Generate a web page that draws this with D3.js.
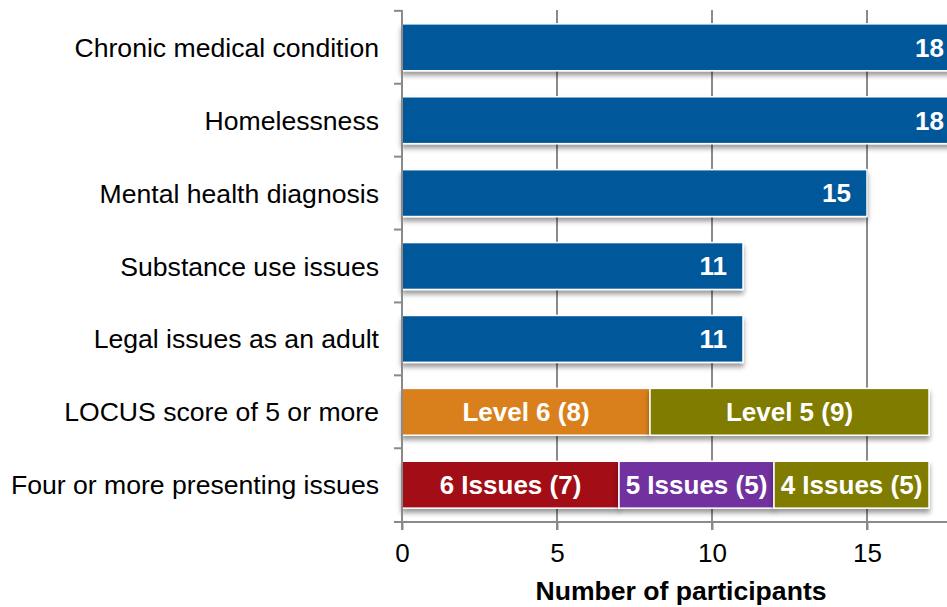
<!DOCTYPE html>
<html>
<head>
<meta charset="utf-8">
<script src="https://cdn.jsdelivr.net/npm/d3@7"></script>
<style>
  body { margin: 0; background: #fff; }
  svg { display: block; font-family: "Liberation Sans", Arial, sans-serif; }
</style>
</head>
<body>
<svg id="chart" width="947" height="607"></svg>
<script>
// categories top to bottom
var categories = [
  "Chronic medical condition",
  "Homelessness",
  "Mental health diagnosis",
  "Substance use issues",
  "Legal issues as an adult",
  "LOCUS score of 5 or more",
  "Four or more presenting issues"
];
// single bars
var singleValues = [18, 18, 15, 11, 11];
// stacked bars
var locusLabels = ["Level 6", "Level 5"];
var locusValues = [8, 9];
var issueLabels = ["6 Issues", "5 Issues", "4 Issues"];
var issueValues = [7, 5, 5];
var xTicks = [0, 5, 10, 15];

var blue = "#00589a";
var locusColors = ["#d9801b", "#7f7b00"];
var issueColors = ["#a20d18", "#7131a0", "#7f7b00"];

var svg = d3.select("#chart");

var defs = svg.append("defs");
var f = defs.append("filter").attr("id", "shadow")
  .attr("x", "-5%").attr("y", "-20%").attr("width", "110%").attr("height", "160%");
f.append("feDropShadow").attr("dx", 0).attr("dy", 4).attr("stdDeviation", 2.5)
  .attr("flood-color", "#000").attr("flood-opacity", 0.4);

var x = d3.scaleLinear().domain([0, 15]).range([402, 867]);
var y = d3.scaleBand().domain(categories).range([10, 522])
  .paddingInner(0.357).paddingOuter(0.19);

// grid lines
svg.append("g").selectAll("line")
  .data(xTicks.slice(1))
  .enter().append("line")
  .attr("x1", function(d){ return x(d); }).attr("x2", function(d){ return x(d); })
  .attr("y1", 10).attr("y2", 530)
  .attr("stroke", "#8a8a8a").attr("stroke-width", 2);

// single bars
var rows = categories.slice(0, singleValues.length).map(function(c, i){
  return {cat: c, value: singleValues[i]};
});

var bars = svg.append("g").attr("class", "bars");
bars.selectAll("rect")
  .data(rows).enter().append("rect")
  .attr("x", x(0))
  .attr("y", function(d){ return y(d.cat); })
  .attr("width", function(d){ return x(d.value) - x(0); })
  .attr("height", y.bandwidth())
  .attr("fill", blue)
  .attr("stroke", "#fff").attr("stroke-width", 1.5)
  .attr("filter", "url(#shadow)");

bars.selectAll("text")
  .data(rows).enter().append("text")
  .attr("x", function(d){ return Math.min(x(d.value), 960) - 16; })
  .attr("y", function(d){ return y(d.cat) + y.bandwidth() / 2; })
  .attr("dy", "0.36em")
  .attr("text-anchor", "end")
  .attr("fill", "#fff").attr("font-weight", "bold").attr("font-size", 26)
  .text(function(d){ return d.value; });

// stacked bars
function stack(cat, labels, values, colors){
  var start = 0;
  var segs = values.map(function(v, i){
    var s = {cat: cat, x0: start, x1: start + v, label: labels[i] + " (" + v + ")", color: colors[i]};
    start += v;
    return s;
  });
  var g = svg.append("g");
  g.selectAll("rect").data(segs).enter().append("rect")
    .attr("x", function(d){ return x(d.x0); })
    .attr("y", y(cat))
    .attr("width", function(d){ return x(d.x1) - x(d.x0); })
    .attr("height", y.bandwidth())
    .attr("fill", function(d){ return d.color; })
    .attr("stroke", "#fff").attr("stroke-width", 1.5)
    .attr("filter", "url(#shadow)");
  g.selectAll("text").data(segs).enter().append("text")
    .attr("x", function(d){ return (x(d.x0) + x(d.x1)) / 2; })
    .attr("y", y(cat) + y.bandwidth() / 2)
    .attr("dy", "0.36em")
    .attr("text-anchor", "middle")
    .attr("fill", "#fff").attr("font-weight", "bold").attr("font-size", 26)
    .text(function(d){ return d.label; });
}
stack(categories[5], locusLabels, locusValues, locusColors);
stack(categories[6], issueLabels, issueValues, issueColors);

// y axis
var half = y.step() * y.paddingInner() / 2;
var yTickPos = categories.map(function(c){ return y(c) - half; }).concat([522]);
var yAxis = svg.append("g").attr("stroke", "#8a8a8a").attr("stroke-width", 2);
yAxis.append("line").attr("x1", 402).attr("x2", 402).attr("y1", 10).attr("y2", 530);
yAxis.selectAll("line.tick").data(yTickPos).enter().append("line")
  .attr("class", "tick")
  .attr("x1", 394).attr("x2", 402)
  .attr("y1", function(d){ return d; }).attr("y2", function(d){ return d; });

svg.append("g").selectAll("text")
  .data(categories).enter().append("text")
  .attr("x", 379)
  .attr("y", function(d){ return y(d) + y.bandwidth() / 2; })
  .attr("dy", "0.36em")
  .attr("text-anchor", "end")
  .attr("font-size", 26.6).attr("fill", "#000")
  .text(function(d){ return d; });

// x axis
var xAxis = d3.axisBottom(x).tickValues(xTicks).tickSize(8).tickPadding(14);
var xg = svg.append("g").attr("transform", "translate(0,522)").call(xAxis);
xg.select(".domain").attr("stroke", "#8a8a8a").attr("stroke-width", 2)
  .attr("d", "M394,0H947");
xg.selectAll(".tick line").attr("stroke", "#8a8a8a").attr("stroke-width", 2);
xg.selectAll(".tick text").attr("font-size", 26).attr("fill", "#000")
  .attr("font-family", "Liberation Sans, Arial, sans-serif");

svg.append("text")
  .attr("x", 681).attr("y", 600)
  .attr("text-anchor", "middle")
  .attr("font-weight", "bold").attr("font-size", 26.6)
  .text("Number of participants");
</script>
</body>
</html>
